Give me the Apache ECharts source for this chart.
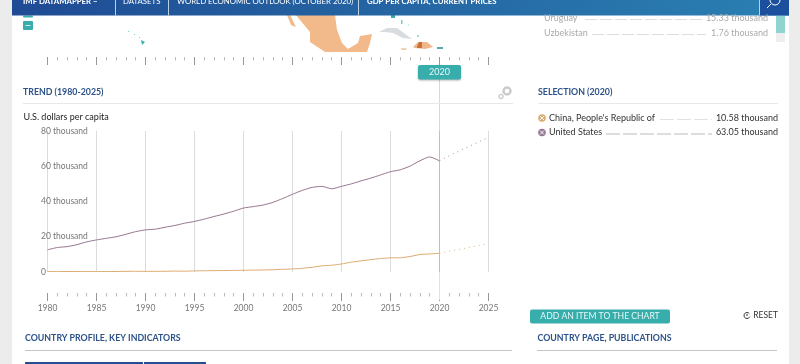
<!DOCTYPE html>
<html><head><meta charset="utf-8">
<style>html,body{margin:0;padding:0;background:#fff}#c{width:800px;height:364px}</style>
<script src="https://cdn.jsdelivr.net/npm/echarts@6/dist/echarts.min.js"></script>
</head><body><div id="c"></div>
<script>
const years=[1980,1981,1982,1983,1984,1985,1986,1987,1988,1989,1990,1991,1992,1993,1994,1995,1996,1997,1998,1999,2000,2001,2002,2003,2004,2005,2006,2007,2008,2009,2010,2011,2012,2013,2014,2015,2016,2017,2018,2019,2020];
const forecastYears=[2020,2021,2022,2023,2024,2025];
const usActual=[12.6,13.9,14.4,15.5,17.1,18.2,19.1,20.0,21.4,22.9,23.9,24.3,25.4,26.4,27.7,28.7,30.0,31.5,32.9,34.5,36.3,37.1,38.0,39.5,41.7,44.1,46.3,48.0,48.6,47.2,48.6,50.0,51.7,53.3,55.1,56.9,58.0,60.1,63.1,65.3,63.05];
const usForecast=[63.05,66.0,68.6,71.2,73.8,76.4];
const chinaActual=[0.31,0.29,0.28,0.30,0.31,0.29,0.28,0.30,0.37,0.41,0.35,0.36,0.42,0.52,0.47,0.61,0.71,0.78,0.83,0.87,0.96,1.05,1.15,1.29,1.51,1.75,2.10,2.69,3.47,3.83,4.55,5.60,6.30,7.02,7.64,8.03,8.08,8.79,9.92,10.26,10.58];
const chinaForecast=[10.58,11.8,12.8,13.9,15.0,16.2];
const selectedYear=2020;
const selection=[["China, People's Republic of","10.58 thousand"],["United States","63.05 thousand"]];
const listTop=[["Uruguay","15.33 thousand"],["Uzbekistan","1.76 thousand"]];
const navItems=["IMF DATAMAPPER \u2212","DATASETS","WORLD ECONOMIC OUTLOOK (OCTOBER 2020)","GDP PER CAPITA, CURRENT PRICES"];

const FONT='Lato, "Noto Sans", sans-serif', BLUE='#2b5289', TEAL='#38aeac', US='#94768f', CN='#dcaa70';
const pair=(xs,ys)=>xs.map((x,i)=>[x,ys[i]]);
const tx=(text,x,y,o={})=>({type:'text',silent:true,z:o.z||20,style:{text,x,y,fill:o.c||'#333',font:(o.w||'normal')+' '+(o.s||9)+'px '+FONT,align:o.a||'left',verticalAlign:'middle'}});
const rc=(x,y,w,h,fill,r,extra)=>({type:'rect',silent:true,z:(extra&&extra.z)||10,shape:{x,y,width:w,height:h,r:r||0},style:Object.assign({fill},extra&&extra.style)});
const ln=(x1,y1,x2,y2,c,o={})=>({type:'line',silent:true,z:o.z||10,shape:{x1,y1,x2,y2},style:{stroke:c,lineWidth:o.w||1,lineDash:o.d||null}});
const pg=(pts,fill)=>({type:'polygon',silent:true,z:5,shape:{points:pts},style:{fill}});

const axisBase={type:'value',min:1980,max:2025,interval:5,axisLine:{show:false}};
const tickAxis=(offset)=>Object.assign({},axisBase,{position:'top',offset,
  axisTick:{show:true,inside:true,length:8,lineStyle:{color:'#999',width:1}},
  minorTick:{show:true,splitNumber:5,length:3.5,lineStyle:{color:'#bbb',width:1}},
  axisLabel:{show:false},splitLine:{show:false}});
const option={
  animation:false,backgroundColor:'#fff',
  grid:{left:47.5,right:311.5,top:131,bottom:92,containLabel:false},
  xAxis:[
    Object.assign({},axisBase,{position:'bottom',offset:21,axisTick:{show:false},
      axisLabel:{show:true,margin:11,color:'#777',fontFamily:FONT,fontSize:8.5,formatter:v=>String(v)},
      splitLine:{show:true,lineStyle:{color:'#dcdcdc',width:1}}}),
    tickAxis(74),
    tickAxis(-162)
  ],
  yAxis:{type:'value',min:0,max:80,interval:20,axisLine:{show:false},axisTick:{show:false},splitLine:{show:false},
    axisLabel:{margin:6.5,align:'left',padding:[2,0,0,0],color:'#777',fontFamily:FONT,fontSize:8.5,formatter:v=>v===0?'0':v+' thousand'}},
  series:[
    {name:'United States',type:'line',data:pair(years,usActual),showSymbol:false,smooth:0.2,lineStyle:{color:US,width:1},z:3},
    {name:'China',type:'line',data:pair(years,chinaActual),showSymbol:false,smooth:0.2,lineStyle:{color:CN,width:1},z:3},
    {name:'United States forecast',type:'line',data:pair(forecastYears,usForecast),showSymbol:false,lineStyle:{color:'#a890a6',width:1,type:[1,4]},z:3},
    {name:'China forecast',type:'line',data:pair(forecastYears,chinaForecast),showSymbol:false,lineStyle:{color:'#e0bb8e',width:1,type:[1,4]},z:3}
  ]
};

const chart=echarts.init(document.getElementById('c'),null,{renderer:'canvas'});
chart.setOption(option);
const cx=chart.convertToPixel({xAxisIndex:0},selectedYear);

const g=[];
g.push(rc(0,0,12,364,'#ececec'),rc(789,0,11,364,'#ececec'));
// map pieces
g.push(pg([[296,15],[335,15],[337,30],[342,43],[348,49],[358,43],[360,36],[372,34],[370,43],[367,52],[325,52],[310,42],[310,32],[300,20]],'#f2b98a'));
g.push(pg([[287,15],[290,15],[296,27],[291,25]],'#f2b98a'));
g.push(pg([[379,32],[387,28],[397,28],[412,39],[403,38],[393,33],[385,32]],'#d8dbdf'));
g.push(pg([[413,47],[418,42],[427,42],[433,47],[425,49],[415,48]],'#f0b78c'));
g.push(pg([[417,47],[419,42],[422,42],[422,48],[417,48]],'#cf6f38'));
g.push(pg([[401,48],[407,48.5],[406,50],[402,50]],'#f3c8a5'));
g.push(rc(437,47,6,2,'#5aa9ad'));
g.push(pg([[141,40],[145,42],[142,45]],'#38aeac'),rc(128,31,1,1,'#7cc'),rc(134,34,1,1,'#7cc'),rc(139,37,1,1,'#7cc'));
g.push(rc(391,15,4,3,'#38aeac'),rc(401,20,1.5,4,'#7cc'),rc(408,24,1,2,'#bee'),rc(417,35,2,2,'#9dd'));
// right list (top, faded)
listTop.forEach((r,i)=>{const y=18+i*15;
  g.push(tx(r[0],544,y,{c:'#aaa',s:9}),tx(r[1],768,y,{c:'#aaa',s:9,a:'right'}));
  g.push(ln(i?592:585,y+1.5,i?706:703,y+1.5,'#ddd',{d:[12,3]}));
});
g.push(rc(776,16,9,17,'#90d4d0'),rc(776,33,9,9,'#eeeeee'));
// header
g.push({type:'rect',silent:true,z:12,shape:{x:12,y:0,width:777,height:15.5},style:{fill:new echarts.graphic.LinearGradient(0,0,1,0,[{offset:0,color:'#1f4b94'},{offset:1,color:'#2a80b2'}])}});
g.push(rc(759,0,30,15.5,'#1c4f9e',0,{z:13}));
[115,168,358,759].forEach(x=>g.push(ln(x+.5,0,x+.5,15.5,'#b9d0e6',{z:14})));
[[23,navItems[0],'bold'],[123,navItems[1],'normal'],[177,navItems[2],'normal'],[367,navItems[3],'bold']].forEach(n=>g.push(tx(n[1],n[0],1,{c:'#fff',s:7.8,w:n[2],z:15})));
g.push({type:'circle',silent:true,z:15,shape:{cx:775,cy:0,r:5},style:{fill:'none',stroke:'#fff',lineWidth:1}},ln(771,4,767,8,'#fff',{z:15}));
// zoom buttons
g.push(rc(23,15.5,10,2,TEAL,1),rc(23,21,10,9,TEAL,1),ln(25.5,25.5,30.5,25.5,'#cfeeee'));
// panel titles
g.push(tx('TREND (1980-2025)',23,92,{c:BLUE,w:'bold',s:8.8}),tx('SELECTION (2020)',538,92,{c:BLUE,w:'bold',s:8.8}));
g.push(ln(23,103.5,513,103.5,'#e8e8e8'),ln(538,103.5,778,103.5,'#e8e8e8'));
g.push(tx('U.S. dollars per capita',23.5,117,{c:'#222',s:9}));
// gears
g.push({type:'circle',silent:true,z:10,shape:{cx:507,cy:91,r:3.5},style:{fill:'#fff',stroke:'#ccc',lineWidth:2.5}},{type:'circle',silent:true,z:10,shape:{cx:501,cy:96.5,r:2},style:{fill:'#fff',stroke:'#d0d0d0',lineWidth:1.5}});
// selection list
selection.forEach((r,i)=>{const y=118+i*14.5,c=i?US:CN;
  g.push({type:'circle',silent:true,z:10,shape:{cx:542,cy:y,r:3.8},style:{fill:c}});
  g.push(ln(540,y-2,544,y+2,'#fff'),ln(544,y-2,540,y+2,'#fff'));
  g.push(tx(r[0],549,y,{c:'#333',s:9}),tx(r[1],778,y,{c:'#333',s:9,a:'right'}));
  g.push(ln(i?606:660,y+1.5,712,y+1.5,i?'#bbb':'#e2e2e2',{d:[14,3]}));
});
// year cursor, badge
g.push(ln(cx,78,cx,131,'#bfe3e3',{z:2}),ln(cx,131,cx,272,'#a9c9c9',{z:2}),ln(cx,272,cx,300,'#cfe8e8',{z:2}));
g.push(rc(cx-21.5,65,43,14.5,TEAL,2,{z:11,style:{shadowBlur:2,shadowColor:'rgba(0,0,0,.3)',shadowOffsetY:1}}));
g.push(tx(String(selectedYear),cx,72.5,{c:'#e8f8f8',s:9,a:'center'}));
// bottom
g.push(rc(530,309.5,140,14,TEAL,2),tx('ADD AN ITEM TO THE CHART',600,316.5,{c:'#e8f8f8',s:8.6,a:'center'}));
g.push({type:'arc',silent:true,z:10,shape:{cx:747,cy:315.5,r:3,startAngle:0.4,endAngle:5.6},style:{fill:'none',stroke:'#333',lineWidth:1}},ln(747,314,747,316,'#333'));
g.push(tx('RESET',778,315.5,{c:'#333',s:8.5,a:'right'}));
g.push(tx('COUNTRY PROFILE, KEY INDICATORS',25,338.5,{c:BLUE,w:'bold',s:8.8}),tx('COUNTRY PAGE, PUBLICATIONS',537.5,338.5,{c:BLUE,w:'bold',s:8.8}));
g.push(ln(25,350.5,512,350.5,'#c4c4c4'),ln(537,350.5,777,350.5,'#c4c4c4'));
g.push(rc(25,362,118,2,'#24508f'),rc(144,362,62,2,'#24508f'));
chart.setOption({graphic:{elements:g}});
</script></body></html>
